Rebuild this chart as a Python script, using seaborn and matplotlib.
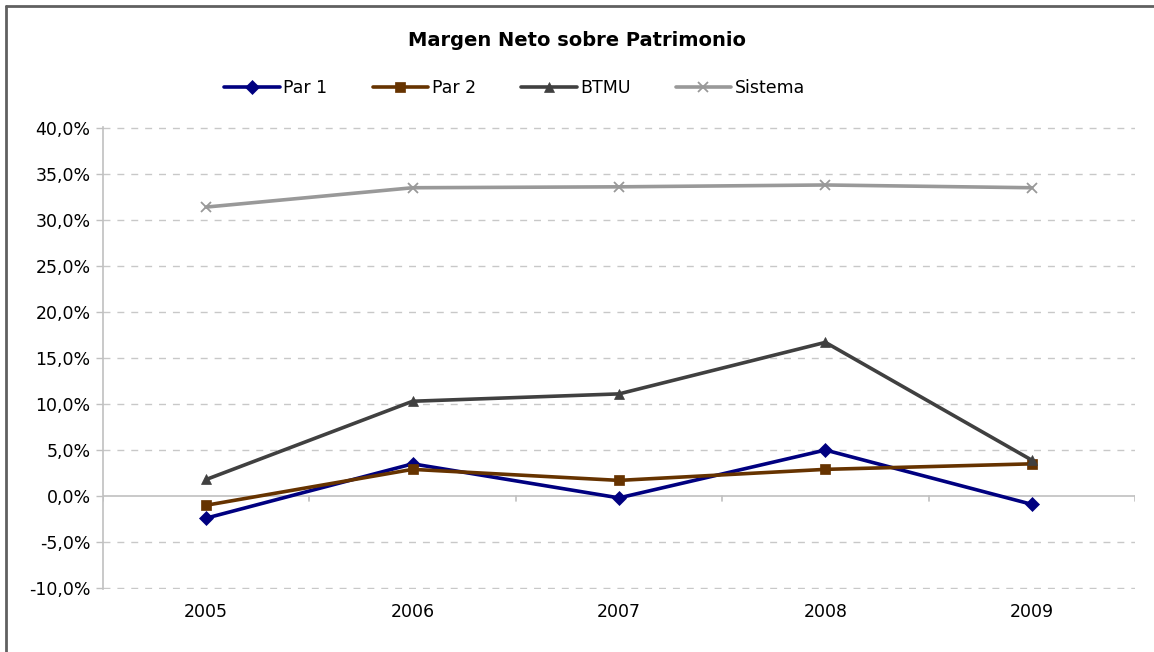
import numpy as np
import pandas as pd
import matplotlib.pyplot as plt
import seaborn as sns
from matplotlib.lines import Line2D
from matplotlib.ticker import FuncFormatter

# Values (percent)
YEARS = ['2005', '2006', '2007', '2008', '2009']
PAR_1 = [-2.4, 3.5, -0.2, 5.0, -0.9]
PAR_2 = [-1.0, 2.9, 1.7, 2.9, 3.5]
BTMU = [1.8, 10.3, 11.1, 16.7, 3.9]
SISTEMA = [31.4, 33.5, 33.6, 33.8, 33.5]

SERIES = ['Par 1', 'Par 2', 'BTMU', 'Sistema']
COLORS = ['#000080', '#663300', '#404040', '#999999']
MARKERS = ['D', 's', '^', 'x']

df = pd.DataFrame({
    'year': YEARS * 4,
    'pos': list(range(len(YEARS))) * 4,
    'serie': [s for s in SERIES for _ in YEARS],
    'valor': PAR_1 + PAR_2 + BTMU + SISTEMA,
})

sns.set_style('white')
plt.rcParams['font.family'] = ['Verdana', 'DejaVu Sans']
plt.rcParams['text.color'] = 'black'
plt.rcParams['xtick.color'] = 'black'
plt.rcParams['ytick.color'] = 'black'

fig = plt.figure(figsize=(11.54, 6.52), dpi=100)
ax = fig.add_axes([103 / 1154, 1 - 589 / 652, (1135 - 103) / 1154, (589 - 127) / 652])

# grid first so the lines sit on top
for v in np.arange(-10, 41, 5):
    if v == 0:
        continue
    ax.axhline(v, color='#c8c8c8', lw=1, ls=(0, (5, 5)), zorder=0)
ax.axhline(0, color='#c0c0c0', lw=1.2, zorder=1)
for b in np.arange(-0.5, 4.6, 1):
    ax.plot([b, b], [0, -0.5], color='#c0c0c0', lw=1.2, zorder=1)

for name, color, marker in zip(SERIES, COLORS, MARKERS):
    sub = df[df['serie'] == name]
    ms = 7 if marker != 'x' else 7
    sns.lineplot(data=sub, x='pos', y='valor', ax=ax, color=color, lw=2.6,
                 marker=marker, markersize=ms, markeredgecolor=color,
                 markeredgewidth=1.3 if marker == 'x' else 0.5, label=name,
                 legend=False, zorder=3)

ax.set_xlim(-0.5, 4.5)
ax.set_ylim(-10.1, 40.1)
ax.set_yticks(np.arange(-10, 41, 5))
ax.yaxis.set_major_formatter(FuncFormatter(lambda v, p: f'{v:.1f}%'.replace('.', ',')))
ax.set_xticks(range(len(YEARS)))
ax.set_xticklabels(YEARS)
ax.tick_params(axis='x', length=0, pad=10, labelsize=12.5)
ax.tick_params(axis='y', length=5, width=1, color='#c0c0c0', labelcolor='black',
               direction='out', left=True, labelsize=12.5, pad=4)
ax.set_xlabel('')
ax.set_ylabel('')
for side in ['top', 'right', 'bottom']:
    ax.spines[side].set_visible(False)
ax.spines['left'].set_color('#c0c0c0')
ax.spines['left'].set_linewidth(1.2)

fig.text(0.5, 1 - 41 / 652, 'Margen Neto sobre Patrimonio', ha='center', va='center',
         fontsize=14, fontweight='bold', color='black')

handles = [Line2D([0], [0], color=c, lw=2.6, marker=m, markersize=7,
                  markeredgecolor=c, markeredgewidth=1.3 if m == 'x' else 0.5)
           for c, m in zip(COLORS, MARKERS)]
fig.legend(handles, SERIES, loc='center', bbox_to_anchor=(0.446, 1 - 88 / 652), ncol=4,
           frameon=False, fontsize=12.5, handlelength=3.2, columnspacing=2.6,
           handletextpad=0.2)

# chart border (top and left edges visible)
fig.add_artist(Line2D([6 / 1154, 6 / 1154], [0, 1 - 6 / 652], color='#606060', lw=2,
                      transform=fig.transFigure))
fig.add_artist(Line2D([6 / 1154, 1], [1 - 6 / 652, 1 - 6 / 652], color='#606060', lw=2,
                      transform=fig.transFigure))

fig.savefig('out.png', dpi=100)
